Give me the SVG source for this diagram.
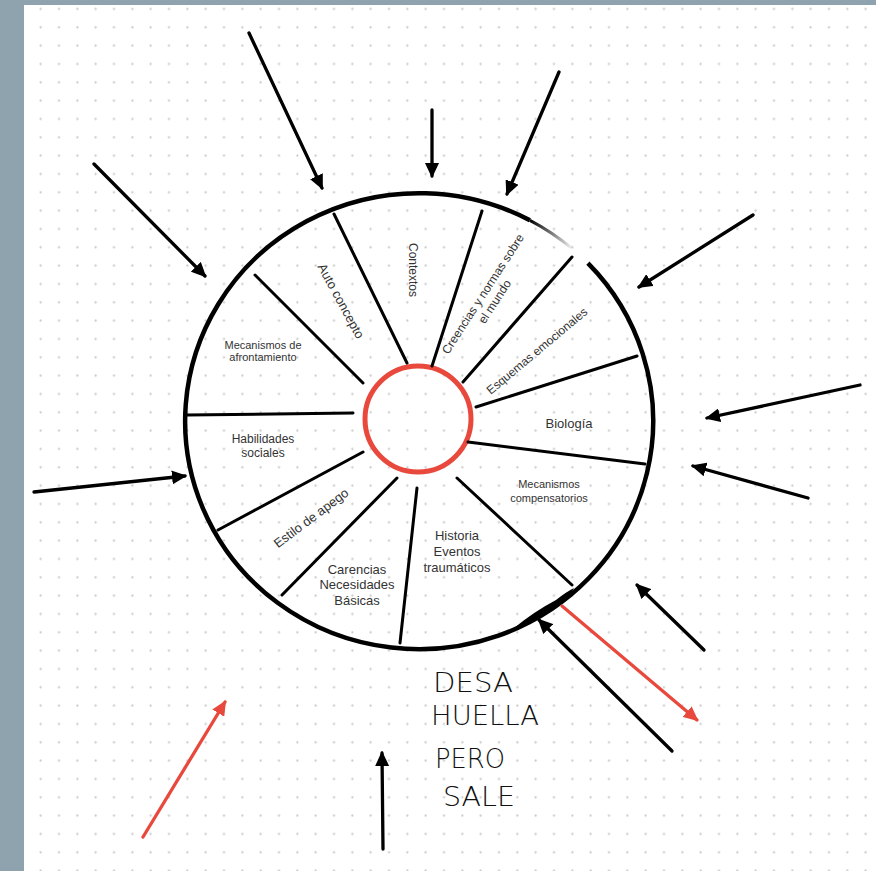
<svg xmlns="http://www.w3.org/2000/svg" width="876" height="871" viewBox="0 0 876 871">
<defs>
<pattern id="dots" patternUnits="userSpaceOnUse" x="31.5" y="-0.17" width="18.333" height="18.333">
<circle cx="9.17" cy="9.17" r="1.1" fill="#c6c6c6"/>
</pattern>
<marker id="ah" markerUnits="userSpaceOnUse" viewBox="0 0 15 14" refX="13" refY="7" markerWidth="15" markerHeight="14" orient="auto">
<path d="M0,0 L15,7 L0,14 Z" fill="#000"/>
</marker>
<marker id="ahr" markerUnits="userSpaceOnUse" viewBox="0 0 15 14" refX="13" refY="7" markerWidth="15" markerHeight="14" orient="auto">
<path d="M0,0 L15,7 L0,14 Z" fill="#e8493c"/>
</marker>
<linearGradient id="fade" gradientUnits="userSpaceOnUse" x1="530" y1="220" x2="572" y2="248">
<stop offset="0" stop-color="#000" stop-opacity="1"/>
<stop offset="1" stop-color="#000" stop-opacity="0.05"/>
</linearGradient>
<style>
.sp{stroke:#000;stroke-width:3;stroke-linecap:round;fill:none}
.ar{stroke:#000;stroke-width:3.3;stroke-linecap:round;fill:none;marker-end:url(#ah)}
.arr{stroke:#e8493c;stroke-width:3.3;stroke-linecap:round;fill:none;marker-end:url(#ahr)}
.t{font-family:"Liberation Sans",Arial,sans-serif;fill:#333;text-anchor:middle}
.hw{font-family:"DejaVu Sans","Liberation Sans",sans-serif;fill:#111;font-weight:200;font-size:27px}
</style>
</defs>
<rect x="0" y="0" width="876" height="871" fill="#8fa3ae"/>
<rect x="24" y="5" width="852" height="866" fill="#fff"/>
<rect x="24" y="5" width="852" height="866" fill="url(#dots)"/>

<g id="wheel">
<path d="M587.9,263.2 A234,228 0 1 1 529.9,220.3" fill="none" stroke="#000" stroke-width="4.5"/>
<path d="M529.9,220.3 A234,228 0 0 1 571.3,247.9" fill="none" stroke="url(#fade)" stroke-width="3"/>
<path d="M514,628 Q535,611 556,600 Q566,592 574,588 Q568,601 552,610 Q535,622 514,628 Z" fill="#000"/>
<circle cx="418" cy="419" r="53" fill="none" stroke="#e8493c" stroke-width="5"/>
</g>

<g id="spokes">
<line class="sp" x1="407" y1="363" x2="334" y2="214"/>
<line class="sp" x1="432" y1="366" x2="482" y2="211"/>
<line class="sp" x1="463" y1="382" x2="572" y2="257"/>
<line class="sp" x1="476" y1="407" x2="637" y2="356"/>
<line class="sp" x1="468" y1="442" x2="645" y2="464"/>
<line class="sp" x1="457" y1="478" x2="572" y2="585" stroke-width="2.5"/>
<line class="sp" x1="417" y1="488" x2="400" y2="643"/>
<line class="sp" x1="397" y1="478" x2="282" y2="595"/>
<line class="sp" x1="363" y1="452" x2="218" y2="530"/>
<line class="sp" x1="187" y1="415" x2="353" y2="413" stroke-width="3.5"/>
<line class="sp" x1="363" y1="383" x2="255" y2="275"/>
</g>

<g id="n-contextos"><text class="t" font-size="12" transform="translate(413,270) rotate(90)" y="4">Contextos</text></g>
<g id="n-autoconcepto"><text class="t" font-size="13" transform="translate(341,301) rotate(61.5)" y="4.5">Auto concepto</text></g>
<g id="n-creencias"><text class="t" font-size="12" transform="translate(483,294) rotate(-57)"><tspan x="0" y="4">Creencias y normas sobre</tspan><tspan x="0" y="18">el mundo</tspan></text></g>
<g id="n-esquemas"><text class="t" font-size="12" transform="translate(537,351) rotate(-40)" y="4">Esquemas emocionales</text></g>
<g id="n-biologia"><text class="t" font-size="13" x="569" y="428">Biología</text></g>
<g id="n-mecomp"><text class="t" font-size="11"><tspan x="549" y="488">Mecanismos</tspan><tspan x="549" y="502">compensatorios</tspan></text></g>
<g id="n-historia"><text class="t" font-size="13"><tspan x="457" y="540">Historia</tspan><tspan x="457" y="556">Eventos</tspan><tspan x="457" y="572">traumáticos</tspan></text></g>
<g id="n-carencias"><text class="t" font-size="13"><tspan x="357" y="574">Carencias</tspan><tspan x="357" y="589">Necesidades</tspan><tspan x="357" y="605">Básicas</tspan></text></g>
<g id="n-estilo"><text class="t" font-size="13" transform="translate(311,518) rotate(-37)" y="4.5">Estilo de apego</text></g>
<g id="n-habilidades"><text class="t" font-size="12"><tspan x="263" y="443">Habilidades</tspan><tspan x="263" y="457">sociales</tspan></text></g>
<g id="n-mecafront"><text class="t" font-size="11"><tspan x="263" y="349">Mecanismos de</tspan><tspan x="263" y="361">afrontamiento</tspan></text></g>

<g id="note">
<text class="hw" x="433" y="692" textLength="80" lengthAdjust="spacingAndGlyphs">DESA</text>
<text class="hw" x="431" y="725" textLength="108" lengthAdjust="spacingAndGlyphs">HUELLA</text>
<text class="hw" x="435" y="768" textLength="70" lengthAdjust="spacingAndGlyphs">PERO</text>
<text class="hw" x="443" y="806" textLength="72" lengthAdjust="spacingAndGlyphs">SALE</text>
</g>

<g id="connectors">
<line class="ar" x1="249" y1="33" x2="322" y2="188"/>
<line class="ar" x1="432" y1="110" x2="432" y2="176"/>
<line class="ar" x1="559" y1="72" x2="507" y2="194" stroke-width="2.6"/>
<line class="ar" x1="94" y1="164" x2="205" y2="276"/>
<line class="ar" x1="753" y1="215" x2="639" y2="287" stroke-width="2.8"/>
<line class="ar" x1="860" y1="385" x2="707" y2="418" stroke-width="2.8"/>
<line class="ar" x1="808" y1="498" x2="693" y2="466" stroke-width="2.8"/>
<line class="ar" x1="34" y1="492" x2="185" y2="476"/>
<line class="ar" x1="704" y1="650" x2="637" y2="585" stroke-width="2.8"/>
<line class="ar" x1="672" y1="751" x2="539" y2="620" stroke-width="2.6"/>
<line class="ar" x1="383" y1="849" x2="382" y2="753"/>
<line class="arr" x1="143" y1="837" x2="225" y2="702"/>
<line class="arr" x1="562" y1="606" x2="697" y2="720"/>
</g>
</svg>
